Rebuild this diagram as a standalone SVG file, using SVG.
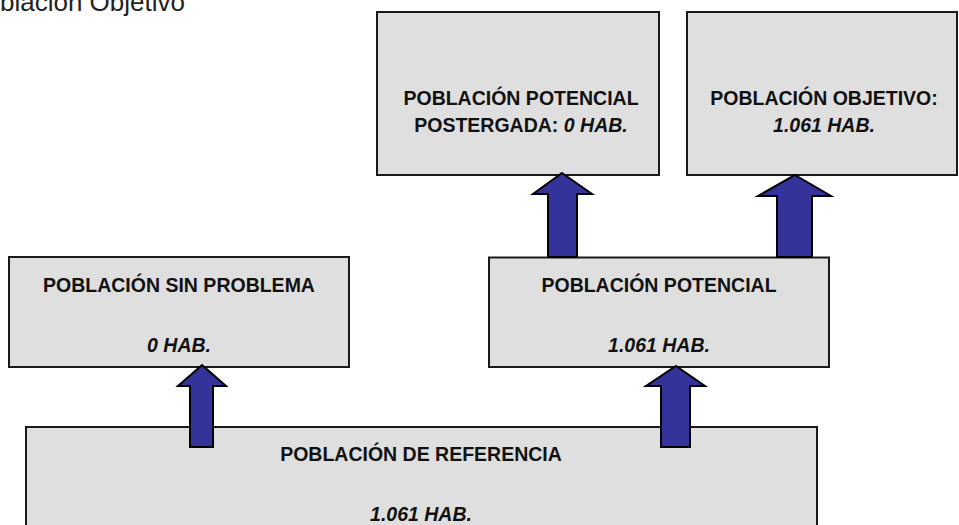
<svg xmlns="http://www.w3.org/2000/svg" width="959" height="525" viewBox="0 0 959 525">
<style>
.box{fill:#dfdfdf;stroke:#1a1a1a;stroke-width:2}
.t{font-family:"Liberation Sans",Arial,sans-serif;font-size:19.5px;font-weight:bold;fill:#111;text-anchor:middle}
.i{font-style:italic}
.arrow{fill:#333399;stroke:#000;stroke-width:2;stroke-linejoin:miter}
.title{font-family:"Liberation Sans",Arial,sans-serif;font-size:26px;fill:#222;text-anchor:end}
</style>
<rect width="959" height="525" fill="#fff"/>
<text class="title" x="185" y="11">Población Objetivo</text>

<g id="referencia">
<rect class="box" x="26" y="427" width="791" height="120"/>
<text class="t" x="421" y="461">POBLACIÓN DE REFERENCIA</text>
<text class="t i" x="421" y="521">1.061 HAB.</text>
</g>

<g id="sin-problema">
<rect class="box" x="9" y="257" width="340" height="110"/>
<text class="t" x="179" y="292">POBLACIÓN SIN PROBLEMA</text>
<text class="t i" x="179" y="352">0 HAB.</text>
</g>

<g id="potencial">
<rect class="box" x="489" y="257.5" width="340" height="109.5"/>
<text class="t" x="659" y="292">POBLACIÓN POTENCIAL</text>
<text class="t i" x="659" y="352">1.061 HAB.</text>
</g>

<g id="postergada">
<rect class="box" x="377" y="12" width="282" height="163"/>
<text class="t" x="521" y="105">POBLACIÓN POTENCIAL</text>
<text class="t" x="521" y="132">POSTERGADA: <tspan class="i">0 HAB.</tspan></text>
</g>

<g id="objetivo">
<rect class="box" x="687" y="12" width="270" height="163"/>
<text class="t" x="824" y="105">POBLACIÓN OBJETIVO:</text>
<text class="t i" x="824" y="132">1.061 HAB.</text>
</g>

<g id="connectors">
<polygon class="arrow" points="202,365 226,386 213,386 213,447 190,447 190,386 178,386"/>
<polygon class="arrow" points="676,366 705,386 690,386 690,447 661,447 661,386 646,386"/>
<polygon class="arrow" points="562,173 592,194 577,194 577,257 548,257 548,194 533,194"/>
<polygon class="arrow" points="795,175 831,196 812,196 812,257 777,257 777,196 758,196"/>
</g>
</svg>
